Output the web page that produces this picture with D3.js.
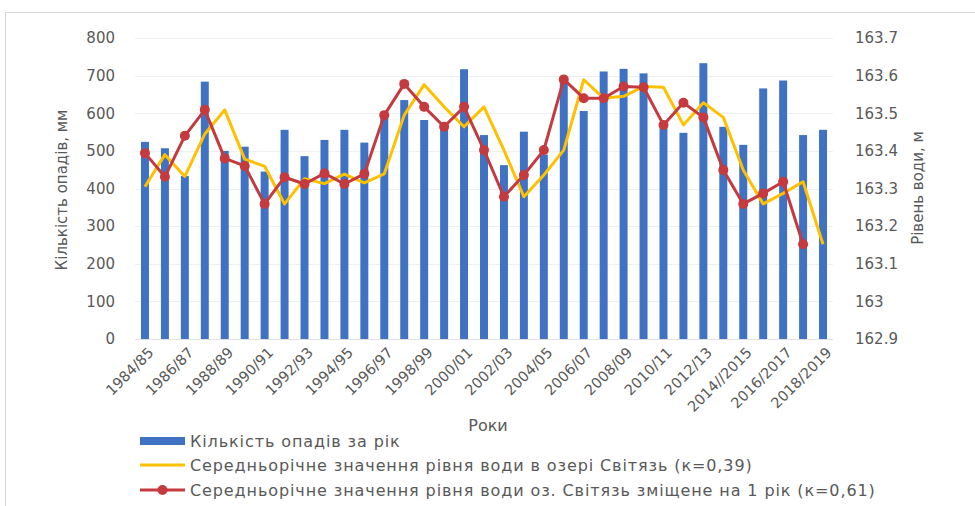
<!DOCTYPE html>
<html>
<head>
<meta charset="utf-8">
<script src="https://cdn.jsdelivr.net/npm/d3@7/dist/d3.min.js"></script>
<style>
    body { margin: 0; background: #ffffff; }
    svg text { font-family: "DejaVu Sans", sans-serif; fill: #595959; }
</style>
</head>
<body>
<div id="chart"></div>
<script>

//categories (hydrological years)
var years = ["1984/85", "1985/86", "1986/87", "1987/88", "1988/89", "1989/90", "1990/91", "1991/92",
    "1992/93", "1993/94", "1994/95", "1995/96", "1996/97", "1997/98", "1998/99", "1999/00",
    "2000/01", "2001/02", "2002/03", "2003/04", "2004/05", "2005/06", "2006/07", "2007/08",
    "2008/09", "2009/10", "2010/11", "2011/12", "2012/13", "2013/14", "2014//2015", "2015/2016",
    "2016/2017", "2017/2018", "2018/2019"];

//precipitation per year, mm (left axis)
var precipitation = [524, 507, 433, 684, 500, 511, 445, 556, 486, 529, 556, 522, 590, 635,
    582, 562, 717, 542, 462, 551, 490, 692, 606, 711, 718, 706, 560, 548, 733, 564, 516,
    666, 687, 542, 556];

//mean annual water level, m (right axis)
var waterLevel = [163.305, 163.390, 163.332, 163.445, 163.509, 163.378, 163.359, 163.259, 163.326,
    163.313, 163.338, 163.315, 163.339, 163.495, 163.576, 163.517, 163.464, 163.517, 163.402,
    163.278, 163.336, 163.402, 163.589, 163.540, 163.545, 163.571, 163.569, 163.469, 163.528,
    163.489, 163.349, 163.259, 163.287, 163.318, 163.152];

//mean annual water level shifted by one year, m (right axis)
var waterLevelShifted = [163.394, 163.331, 163.440, 163.509, 163.380, 163.360, 163.259, 163.330,
    163.312, 163.340, 163.312, 163.339, 163.495, 163.578, 163.517, 163.464, 163.517, 163.402,
    163.278, 163.336, 163.402, 163.590, 163.540, 163.540, 163.571, 163.569, 163.469, 163.528,
    163.489, 163.349, 163.259, 163.287, 163.318, 163.152];

var leftTicks = [0, 100, 200, 300, 400, 500, 600, 700, 800];
var rightTicks = ["162.9", "163", "163.1", "163.2", "163.3", "163.4", "163.5", "163.6", "163.7"];

var legendLabels = [
    "Кількість опадів за рік",
    "Середньорічне значення рівня води в озері Світязь (к=0,39)",
    "Середньорічне значення рівня води оз. Світязь зміщене на 1 рік (к=0,61)"
];

(function() {

    var width = 975;
    var height = 506;
    var plot = { left: 135, right: 833, top: 38, bottom: 339 };

    var barColour = "#3f72c2";
    var levelColour = "#ffc000";
    var shiftedColour = "#c43a3e";

    var svg = d3.select("#chart")
        .append("svg")
        .attr("width", width)
        .attr("height", height);

    //light frame round the chart area
    svg.append("rect")
        .attr("x", 5.5)
        .attr("y", 12.5)
        .attr("width", width - 5)
        .attr("height", height - 12)
        .attr("fill", "none")
        .attr("stroke", "#d6d6d6");

    var x = d3.scalePoint()
        .domain(years)
        .range([plot.left, plot.right])
        .padding(0.5);

    var yLeft = d3.scaleLinear()
        .domain([0, 800])
        .range([plot.bottom, plot.top]);

    var yRight = d3.scaleLinear()
        .domain([162.9, 163.7])
        .range([plot.bottom, plot.top]);

    var barWidth = x.step() * 0.4;

    //gridlines, very faint
    svg.append("g")
        .selectAll("line")
        .data(leftTicks.slice(1))
        .enter()
        .append("line")
        .attr("x1", plot.left)
        .attr("x2", plot.right)
        .attr("y1", function(d) { return Math.round(yLeft(d)) + 0.5; })
        .attr("y2", function(d) { return Math.round(yLeft(d)) + 0.5; })
        .attr("stroke", "#efefef");

    //left axis
    var leftAxis = svg.append("g")
        .attr("transform", "translate(" + (plot.left - 20) + ",0)")
        .call(d3.axisLeft(yLeft).tickValues(leftTicks).tickSize(0).tickPadding(0));
    leftAxis.select(".domain").remove();
    leftAxis.selectAll("text")
        .style("font-size", "15px")
        .style("font-family", "DejaVu Sans")
        .attr("fill", "#595959");

    //right axis
    var rightAxis = svg.append("g")
        .attr("transform", "translate(" + (plot.right + 22) + ",0)")
        .call(d3.axisRight(yRight).tickValues(rightTicks.map(Number))
            .tickFormat(function(d, i) { return rightTicks[i]; })
            .tickSize(0).tickPadding(0));
    rightAxis.select(".domain").remove();
    rightAxis.selectAll("text")
        .style("font-size", "15px")
        .style("font-family", "DejaVu Sans")
        .attr("fill", "#595959");

    //bars
    svg.append("g")
        .selectAll("rect")
        .data(precipitation)
        .enter()
        .append("rect")
        .attr("x", function(d, i) { return x(years[i]) - barWidth / 2; })
        .attr("y", function(d) { return yLeft(d); })
        .attr("width", barWidth)
        .attr("height", function(d) { return yLeft(0) - yLeft(d); })
        .attr("fill", barColour);

    //baseline
    svg.append("line")
        .attr("x1", plot.left)
        .attr("x2", plot.right)
        .attr("y1", plot.bottom + 0.5)
        .attr("y2", plot.bottom + 0.5)
        .attr("stroke", "#e0e0e0");

    var levelLine = d3.line()
        .x(function(d, i) { return x(years[i]); })
        .y(function(d) { return yRight(d); });

    svg.append("path")
        .datum(waterLevel)
        .attr("d", levelLine)
        .attr("fill", "none")
        .attr("stroke", levelColour)
        .attr("stroke-width", 3)
        .attr("stroke-linejoin", "round");

    svg.append("path")
        .datum(waterLevelShifted)
        .attr("d", levelLine)
        .attr("fill", "none")
        .attr("stroke", shiftedColour)
        .attr("stroke-width", 3)
        .attr("stroke-linejoin", "round");

    svg.append("g")
        .selectAll("circle")
        .data(waterLevelShifted)
        .enter()
        .append("circle")
        .attr("cx", function(d, i) { return x(years[i]); })
        .attr("cy", function(d) { return yRight(d); })
        .attr("r", 5)
        .attr("fill", shiftedColour);

    //x labels, every second year, rotated
    svg.append("g")
        .selectAll("text")
        .data(years.filter(function(d, i) { return i % 2 === 0; }))
        .enter()
        .append("text")
        .attr("transform", function(d) {
            return "translate(" + (x(d) + 6) + "," + (plot.bottom + 11) + ") rotate(-45)";
        })
        .attr("text-anchor", "end")
        .attr("dy", "0.35em")
        .style("font-size", "14.5px")
        .text(function(d) { return d; });

    //axis titles
    svg.append("text")
        .attr("x", 488)
        .attr("y", 431)
        .attr("text-anchor", "middle")
        .style("font-size", "16px")
        .text("Роки");

    svg.append("text")
        .attr("transform", "translate(67,190) rotate(-90)")
        .attr("text-anchor", "middle")
        .style("font-size", "15px")
        .text("Кількість опадів, мм");

    svg.append("text")
        .attr("transform", "translate(923,188) rotate(-90)")
        .attr("text-anchor", "middle")
        .style("font-size", "15px")
        .text("Рівень води, м");

    //legend
    var legendRows = [441, 465, 490];
    var legend = svg.append("g");

    legend.append("rect")
        .attr("x", 140)
        .attr("y", legendRows[0] - 4)
        .attr("width", 45)
        .attr("height", 8)
        .attr("fill", barColour);

    legend.append("line")
        .attr("x1", 140).attr("x2", 185)
        .attr("y1", legendRows[1]).attr("y2", legendRows[1])
        .attr("stroke", levelColour)
        .attr("stroke-width", 3);

    legend.append("line")
        .attr("x1", 140).attr("x2", 185)
        .attr("y1", legendRows[2]).attr("y2", legendRows[2])
        .attr("stroke", shiftedColour)
        .attr("stroke-width", 3);

    legend.append("circle")
        .attr("cx", 162.5)
        .attr("cy", legendRows[2])
        .attr("r", 5)
        .attr("fill", shiftedColour);

    legend.selectAll("text")
        .data(legendLabels)
        .enter()
        .append("text")
        .attr("x", 190)
        .attr("y", function(d, i) { return legendRows[i]; })
        .attr("dy", "0.35em")
        .style("font-size", "16px")
        .style("letter-spacing", "0.9px")
        .text(function(d) { return d; });

}());
</script>
</body>
</html>
